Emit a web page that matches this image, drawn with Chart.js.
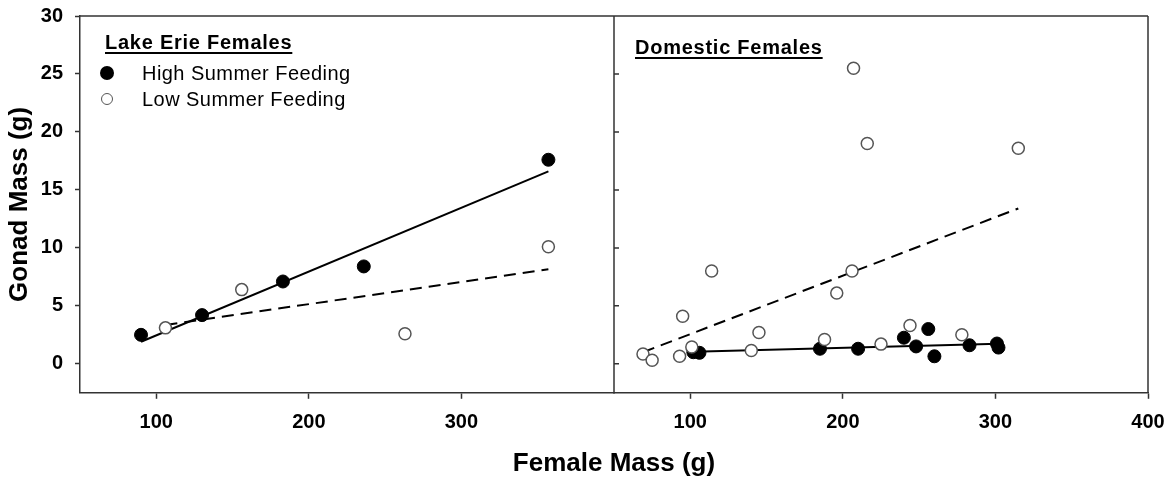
<!DOCTYPE html>
<html>
<head>
<meta charset="utf-8">
<script src="https://cdn.jsdelivr.net/npm/chart.js@4.4.0/dist/chart.umd.min.js"></script>
<style>
  html, body { margin: 0; padding: 0; background: #fff; }
  #wrap { position: relative; width: 1174px; height: 481px; }
  #chart { position: absolute; left: 0; top: 0; }
  .panel-title {
    position: absolute; font: bold 20px "Liberation Sans", Arial, sans-serif; line-height: 20px;
    letter-spacing: 0.75px; color: #000; text-decoration: underline;
    text-decoration-thickness: 2px; text-underline-offset: 3px; white-space: nowrap;
  }
  .key {
    position: absolute; font: 20px "Liberation Sans", Arial, sans-serif; line-height: 20px;
    letter-spacing: 0.45px; color: #000; white-space: nowrap;
  }
  .dot { position: absolute; border-radius: 50%; box-sizing: border-box; }
  .dot.high { width: 14px; height: 14px; background: #000; }
  .dot.low { width: 12px; height: 12px; background: #fff; border: 1.5px solid #555; }
</style>
</head>
<body>
<div id="wrap">
  <canvas id="chart" width="1174" height="481"></canvas>
  <div class="panel-title" style="left:105px; top:32px;">Lake Erie Females</div>
  <span class="dot high" style="left:100px; top:66px;"></span>
  <div class="key" style="left:142px; top:63px;">High Summer Feeding</div>
  <span class="dot low" style="left:101px; top:93px;"></span>
  <div class="key" style="left:142px; top:89px;">Low Summer Feeding</div>
  <div class="panel-title" style="left:635px; top:37px;">Domestic Females</div>
</div>
<script>
// ---- DATA (female mass g, gonad mass g) ----
// Lake Erie females
const ERIE_HIGH_X = [90, 130, 183, 236, 357];
const ERIE_HIGH_Y = [2.5, 4.2, 7.1, 8.4, 17.6];
const ERIE_LOW_X = [106, 156, 263, 357];
const ERIE_LOW_Y = [3.1, 6.4, 2.6, 10.1];
const ERIE_HIGH_FIT_X = [90, 357];
const ERIE_HIGH_FIT_Y = [1.9, 16.6];
const ERIE_LOW_FIT_X = [106, 357];
const ERIE_LOW_FIT_Y = [3.35, 8.15];

// Domestic females
const DOM_HIGH_X = [102, 106, 185, 210, 240, 248, 256, 260, 283, 301, 302];
const DOM_HIGH_Y = [1.0, 0.95, 1.3, 1.3, 2.25, 1.5, 3.0, 0.65, 1.6, 1.75, 1.4];
const DOM_LOW_X = [69, 75, 93, 95, 101, 114, 140, 145, 188, 196, 206, 207, 216, 225, 244, 278, 315];
const DOM_LOW_Y = [0.85, 0.3, 0.65, 4.1, 1.45, 8.0, 1.15, 2.7, 2.1, 6.1, 8.0, 25.5, 19.0, 1.7, 3.3, 2.5, 18.6];
const DOM_HIGH_FIT_X = [102, 302];
const DOM_HIGH_FIT_Y = [1.05, 1.73];
const DOM_LOW_FIT_X = [69, 315];
const DOM_LOW_FIT_Y = [1.0, 13.4];

// ---- AXES ----
const X_MIN = 50, X_MAX = 400;
const Y_MIN = -2.5, Y_MAX = 30;
const ERIE_X_TICKS = [100, 200, 300];
const DOM_X_TICKS = [100, 200, 300, 400];
const Y_TICKS = [0, 5, 10, 15, 20, 25, 30];

const FONT = '"Liberation Sans", Arial, sans-serif';
const AXIS_COLOR = '#333';

function pts(xs, ys) {
    return xs.map((x, i) => ({ x, y: ys[i] }));
}

const highStyle = { backgroundColor: '#000', borderColor: '#000', borderWidth: 1, pointRadius: 6.5, order: 1 };
const lowStyle = { backgroundColor: '#fff', borderColor: '#555', borderWidth: 1.5, pointRadius: 6, order: 0 };
const fitStyle = { showLine: true, pointRadius: 0, borderColor: '#000', borderWidth: 2, order: 2 };

// frame lines + inward ticks on the panel divider
const framePlugin = {
    id: 'frame',
    beforeDatasetsDraw(chart) {
        const { ctx, chartArea: a, scales } = chart;
        const split = scales.x2.left;
        ctx.save();
        ctx.strokeStyle = AXIS_COLOR;
        ctx.lineWidth = 1.5;
        ctx.beginPath();
        ctx.moveTo(a.left, a.top); ctx.lineTo(a.right, a.top);
        ctx.moveTo(a.right, a.top); ctx.lineTo(a.right, a.bottom);
        ctx.moveTo(split, a.top); ctx.lineTo(split, a.bottom);
        Y_TICKS.forEach(v => {
            const y = scales.y.getPixelForValue(v);
            ctx.moveTo(split, y); ctx.lineTo(split + 5, y);
        });
        ctx.stroke();
        ctx.restore();
    }
};

function xAxis(tickValues) {
    return {
        type: 'linear',
        position: 'bottom',
        stack: 'mass',
        stackWeight: 1,
        min: X_MIN,
        max: X_MAX,
        afterBuildTicks: s => { s.ticks = tickValues.map(v => ({ value: v })); },
        afterFit: s => { s.height = 41; s.paddingLeft = 0; s.paddingRight = 0; },
        grid: { drawOnChartArea: false, tickLength: 6, color: AXIS_COLOR, tickWidth: 1.5 },
        border: { color: AXIS_COLOR, width: 1.5 },
        ticks: { color: '#000', padding: 12, maxRotation: 0, font: { family: FONT, size: 20, weight: 'bold' } }
    };
}

new Chart(document.getElementById('chart'), {
    type: 'scatter',
    data: {
        datasets: [
            { label: 'Erie high', data: pts(ERIE_HIGH_X, ERIE_HIGH_Y), xAxisID: 'x1', ...highStyle },
            { label: 'Erie low', data: pts(ERIE_LOW_X, ERIE_LOW_Y), xAxisID: 'x1', ...lowStyle },
            { label: 'Erie high fit', data: pts(ERIE_HIGH_FIT_X, ERIE_HIGH_FIT_Y), xAxisID: 'x1', ...fitStyle },
            { label: 'Erie low fit', data: pts(ERIE_LOW_FIT_X, ERIE_LOW_FIT_Y), xAxisID: 'x1', ...fitStyle, borderDash: [12, 7] },
            { label: 'Domestic high', data: pts(DOM_HIGH_X, DOM_HIGH_Y), xAxisID: 'x2', ...highStyle },
            { label: 'Domestic low', data: pts(DOM_LOW_X, DOM_LOW_Y), xAxisID: 'x2', ...lowStyle },
            { label: 'Domestic high fit', data: pts(DOM_HIGH_FIT_X, DOM_HIGH_FIT_Y), xAxisID: 'x2', ...fitStyle },
            { label: 'Domestic low fit', data: pts(DOM_LOW_FIT_X, DOM_LOW_FIT_Y), xAxisID: 'x2', ...fitStyle, borderDash: [12, 7] }
        ]
    },
    options: {
        responsive: false,
        animation: false,
        devicePixelRatio: 1,
        layout: { padding: { top: 16, right: 26, left: 0, bottom: 0 } },
        plugins: {
            legend: { display: false },
            tooltip: { enabled: false },
            title: {
                display: true,
                position: 'bottom',
                fullSize: false,
                text: 'Female Mass (g)',
                color: '#000',
                font: { family: FONT, size: 26, weight: 'bold' },
                padding: { top: 14, bottom: 2 }
            }
        },
        scales: {
            x1: xAxis(ERIE_X_TICKS),
            x2: xAxis(DOM_X_TICKS),
            y: {
                min: Y_MIN,
                max: Y_MAX,
                afterFit: s => { s.width = 80; s.paddingTop = 0; s.paddingBottom = 0; },
                afterBuildTicks: s => { s.ticks = Y_TICKS.map(v => ({ value: v })); },
                grid: { drawOnChartArea: false, tickLength: 5, color: AXIS_COLOR, tickWidth: 1.5 },
                border: { color: AXIS_COLOR, width: 1.5 },
                ticks: { color: '#000', padding: 12, font: { family: FONT, size: 20, weight: 'bold' } },
                title: {
                    display: true,
                    text: 'Gonad Mass (g)',
                    color: '#000',
                    font: { family: FONT, size: 26, weight: 'bold' },
                    padding: { top: 4, bottom: 0 }
                }
            }
        }
    },
    plugins: [framePlugin]
});
</script>
</body>
</html>
